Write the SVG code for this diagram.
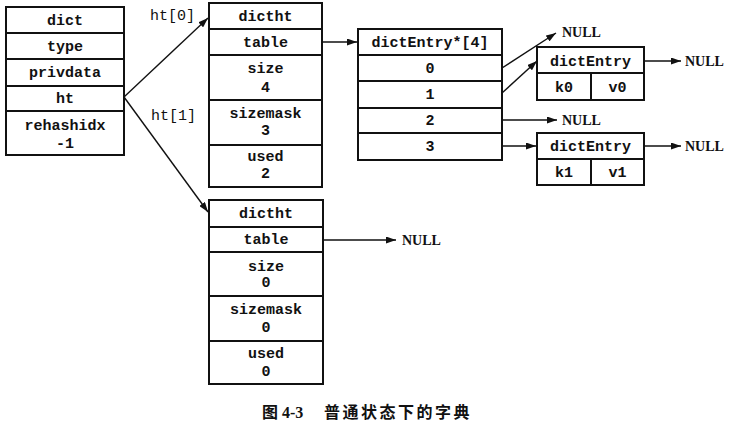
<svg xmlns="http://www.w3.org/2000/svg" width="732" height="430" viewBox="0 0 732 430">
<style>
.box{fill:#fff;stroke:#111;stroke-width:2}
.t{font-family:"Liberation Mono","DejaVu Sans Mono",monospace;font-weight:bold;font-size:15px;fill:#111;text-anchor:middle}
.n{font-family:"Liberation Serif","Times New Roman",serif;font-weight:bold;font-size:14px;fill:#111}
.lbl{font-family:"Liberation Mono","DejaVu Sans Mono",monospace;font-size:15px;fill:#111}
.c{stroke:#111;stroke-width:1.4;fill:none;marker-end:url(#ah)}
</style>
<defs>
<marker id="ah" markerUnits="userSpaceOnUse" markerWidth="10" markerHeight="7" refX="10" refY="3.5" orient="auto">
<path d="M0,0 L10,3.5 L0,7 z" fill="#111"/>
</marker>
</defs>
<rect width="732" height="430" fill="#fff"/>

<g id="dict">
<rect class="box" x="6" y="7" width="118" height="26"/>
<rect class="box" x="6" y="33" width="118" height="26"/>
<rect class="box" x="6" y="59" width="118" height="27"/>
<rect class="box" x="6" y="86" width="118" height="25"/>
<rect class="box" x="6" y="111" width="118" height="44"/>
<text class="t" x="65" y="25">dict</text>
<text class="t" x="65" y="51">type</text>
<text class="t" x="65" y="77">privdata</text>
<text class="t" x="65" y="103">ht</text>
<text class="t" x="65" y="130">rehashidx</text>
<text class="t" x="65" y="148">-1</text>
</g>

<g id="dictht0">
<rect class="box" x="209" y="3" width="113" height="26"/>
<rect class="box" x="209" y="29" width="113" height="26"/>
<rect class="box" x="209" y="55" width="113" height="45"/>
<rect class="box" x="209" y="100" width="113" height="45"/>
<rect class="box" x="209" y="145" width="113" height="42"/>
<text class="t" x="265.5" y="21">dictht</text>
<text class="t" x="265.5" y="47">table</text>
<text class="t" x="265.5" y="73">size</text>
<text class="t" x="265.5" y="92">4</text>
<text class="t" x="265.5" y="118">sizemask</text>
<text class="t" x="265.5" y="135">3</text>
<text class="t" x="265.5" y="161">used</text>
<text class="t" x="265.5" y="178">2</text>
</g>

<g id="dictht1">
<rect class="box" x="209" y="200" width="114" height="27"/>
<rect class="box" x="209" y="227" width="114" height="25"/>
<rect class="box" x="209" y="252" width="114" height="44"/>
<rect class="box" x="209" y="296" width="114" height="45"/>
<rect class="box" x="209" y="341" width="114" height="43"/>
<text class="t" x="266" y="218">dictht</text>
<text class="t" x="266" y="244">table</text>
<text class="t" x="266" y="271">size</text>
<text class="t" x="266" y="287">0</text>
<text class="t" x="266" y="314">sizemask</text>
<text class="t" x="266" y="332">0</text>
<text class="t" x="266" y="358">used</text>
<text class="t" x="266" y="376">0</text>
</g>

<g id="table">
<rect class="box" x="358" y="29" width="144" height="26"/>
<rect class="box" x="358" y="55" width="144" height="26"/>
<rect class="box" x="358" y="81" width="144" height="27"/>
<rect class="box" x="358" y="108" width="144" height="25"/>
<rect class="box" x="358" y="133" width="144" height="27"/>
<text class="t" x="430" y="47">dictEntry*[4]</text>
<text class="t" x="430" y="73">0</text>
<text class="t" x="430" y="99">1</text>
<text class="t" x="430" y="125">2</text>
<text class="t" x="430" y="151">3</text>
</g>

<g id="entry0">
<rect class="box" x="537" y="47" width="107" height="26"/>
<rect class="box" x="537" y="73" width="54" height="27"/>
<rect class="box" x="591" y="73" width="53" height="27"/>
<text class="t" x="590.5" y="66">dictEntry</text>
<text class="t" x="564" y="92">k0</text>
<text class="t" x="617.5" y="92">v0</text>
</g>

<g id="entry1">
<rect class="box" x="537" y="133" width="107" height="26"/>
<rect class="box" x="537" y="159" width="54" height="26"/>
<rect class="box" x="591" y="159" width="53" height="26"/>
<text class="t" x="590.5" y="151">dictEntry</text>
<text class="t" x="564" y="177">k1</text>
<text class="t" x="617.5" y="177">v1</text>
</g>

<g id="connectors">
<path class="c" d="M124,97 L208,18"/>
<path class="c" d="M124,97 L208,212"/>
<path class="c" d="M322,42 L357,42"/>
<path class="c" d="M502,68 L556,33"/>
<path class="c" d="M502,93 L537,61"/>
<path class="c" d="M502,120 L557,120"/>
<path class="c" d="M502,146 L536,146"/>
<path class="c" d="M644,61 L681,61"/>
<path class="c" d="M644,146 L681,146"/>
<path class="c" d="M323,240 L396,240"/>
</g>

<g id="labels">
<text class="lbl" x="150" y="20">ht[0]</text>
<text class="lbl" x="151" y="120">ht[1]</text>
<text class="n" x="562" y="37">NULL</text>
<text class="n" x="562" y="125">NULL</text>
<text class="n" x="685" y="66">NULL</text>
<text class="n" x="685" y="151">NULL</text>
<text class="n" x="402" y="245">NULL</text>
</g>

<g id="caption" font-weight="bold" fill="#111">
<text x="262" y="418" font-family="'Noto Sans CJK SC',sans-serif" font-size="16">图</text>
<text x="282" y="418" font-family="'Liberation Serif',serif" font-size="16">4-3</text>
<text x="324" y="418" font-family="'Noto Sans CJK SC',sans-serif" font-size="16" letter-spacing="2.5">普通状态下的字典</text>
</g>
</svg>
